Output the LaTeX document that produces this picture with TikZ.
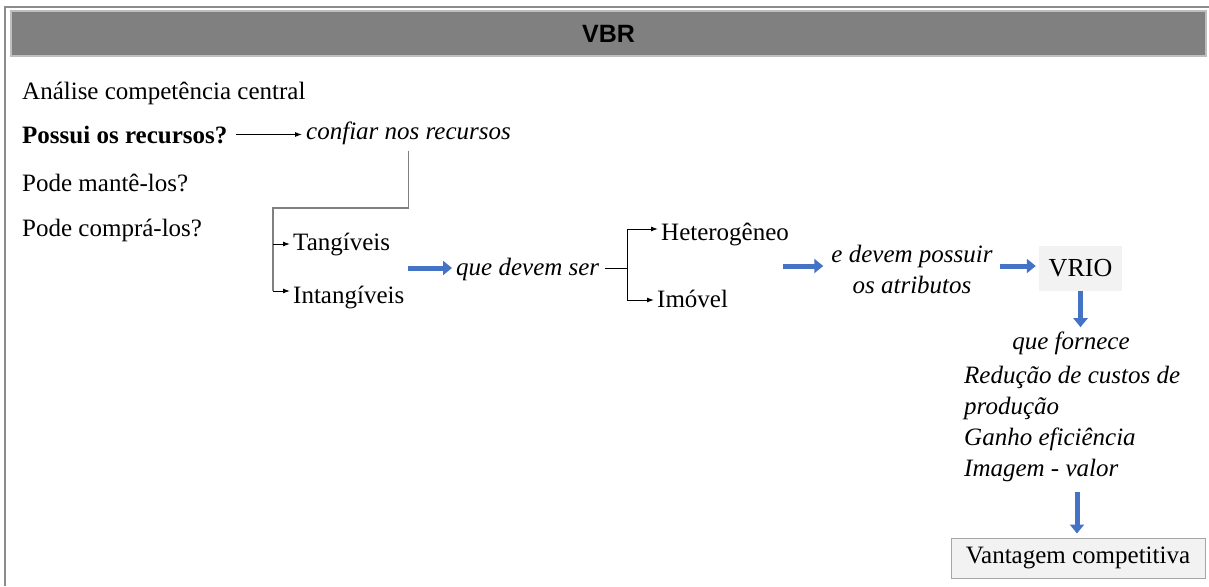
\documentclass[tikz,border=0pt]{standalone}
\usepackage{fontspec}
\setmainfont{Liberation Serif}
\newfontfamily\headfont{Liberation Sans}
\usetikzlibrary{arrows.meta,calc}
\definecolor{frame}{RGB}{140,140,140}
\definecolor{bar}{RGB}{128,128,128}
\definecolor{barline}{RGB}{191,191,191}
\definecolor{flow}{RGB}{68,114,196}
\definecolor{boxfill}{RGB}{242,242,242}
\definecolor{boxline}{RGB}{166,166,166}
\tikzset{
  txt/.style={anchor=base west, inner sep=2pt, font=\fontsize{25}{31}\selectfont},
  itx/.style={txt, font=\fontsize{25}{31}\selectfont\itshape},
  tip/.style={-{Latex[length=7pt,width=5pt]}},
  thinarrow/.style={draw=black, line width=1pt, tip},
  trunk/.style={draw=bar, line width=1.6pt},
  branch/.style={draw=black, line width=1pt},
  bluearrow/.style={draw=flow, line width=5pt, -{Triangle[length=9pt,width=14pt]}},
}
\begin{document}
\begin{tikzpicture}[x=1pt,y=-1pt]
\useasboundingbox (0,0) rectangle (1209,586);
% title bar
\node[fill=bar, draw=barline, line width=1.2pt, minimum width=1195pt, minimum height=45pt,
      inner sep=0pt, font=\headfont\bfseries\fontsize{25}{30}\selectfont] (title) at (608.5,33.5) {VBR};

% left column of questions
\node[txt] (analise) at (20,99) {Análise competência central};
\node[txt, font=\fontsize{25}{31}\selectfont\bfseries] (possui) at (20,143) {Possui os recursos?};
\node[txt] (mante) at (20,191) {Pode mantê-los?};
\node[txt] (compra) at (20,236) {Pode comprá-los?};
\node[itx] (confiar) at (304,139) {confiar nos recursos};

% resource types and requirements
\node[txt] (tang) at (291,250) {Tangíveis};
\node[txt] (intang) at (291,303) {Intangíveis};
\node[itx] (ser) at (454,275) {que devem ser};
\node[txt] (hetero) at (659,240) {Heterogêneo};
\node[txt] (imovel) at (655,307) {Imóvel};

% attributes and outcomes
\node[itx, anchor=center, align=center] (attr) at (912,269) {e devem possuir\\os atributos};
\node[inner sep=0pt, fill=boxfill, minimum width=83pt, minimum height=45pt,
      font=\fontsize{26}{31}\selectfont] (vrio) at (1080.5,268.5) {VRIO};
\node[itx, anchor=base] (fornece) at (1071,349) {que fornece};
\node[itx, anchor=north west, align=left] (ganhos) at (962,364)
  {Redução de custos de\\produção\\Ganho eficiência\\Imagem - valor};
\node[inner sep=0pt, fill=boxfill, draw=boxline, line width=1pt, minimum width=254pt,
      minimum height=40pt, font=\fontsize{25}{31}\selectfont] (vant) at (1078,558) {Vantagem competitiva};

% outer frame
\draw[frame, line width=2pt] (5,586) -- (5,7) -- (1209,7);

% connectors
\coordinate (pa) at ($(possui.east)+(6,0)$);
\draw[thinarrow] (pa) -- ($(pa -| confiar.west)+(-2,0)$);

\coordinate (drop) at ($(confiar.south)+(0,4)$);
\coordinate (knee) at (273,208);
\coordinate (fork) at (273,291);
\draw[trunk] (drop) |- (knee) -- (fork);
\draw[branch, tip] (knee |- tang.west) -- ($(tang.west)+(-1,0)$);
\draw[branch, tip] (fork) -- ($(fork -| intang.west)+(-1,0)$);

\coordinate (b1) at (408,268);
\draw[bluearrow] (b1) -- ($(b1 -| ser.west)+(-2,0)$);

\coordinate (split) at (627,266);
\coordinate (up) at (627,229);
\coordinate (down) at (627,300);
\draw[branch] ($(ser.east)+(4,0)$) -- (ser.east -| split);
\draw[branch] (up) -- (down);
\draw[branch, tip] (up) -- ($(up -| hetero.west)+(-1,0)$);
\draw[branch, tip] (down) -- ($(down -| imovel.west)+(-1,0)$);

\coordinate (b2) at (783,266);
\draw[bluearrow] (b2) -- ($(b2 -| attr.west)+(-6,0)$);
\coordinate (b3) at (1000,266);
\draw[bluearrow] (b3) -- ($(b3 -| vrio.west)+(-3,0)$);
\draw[bluearrow] (vrio.south) -- ($(fornece.north -| vrio.south)+(0,-2)$);
\coordinate (b5) at (1077,492);
\draw[bluearrow] (b5) -- ($(vant.north -| b5)+(0,-4)$);
\end{tikzpicture}
\end{document}
